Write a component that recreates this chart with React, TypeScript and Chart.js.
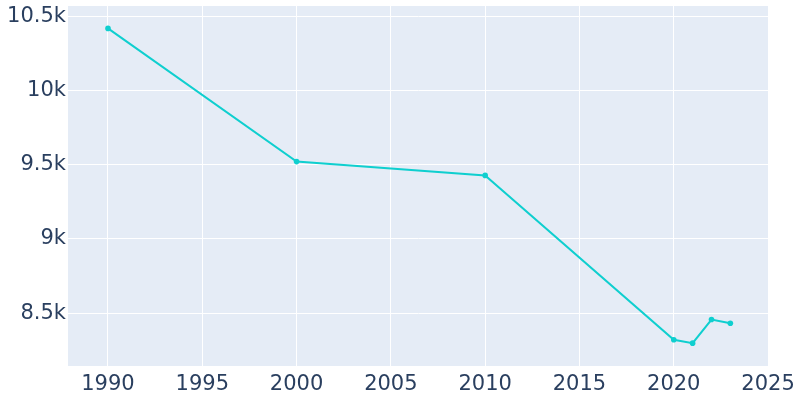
import { useEffect, useRef } from "react"
import { Chart, registerables } from "chart.js"

Chart.register(...registerables)

const years = [1990, 2000, 2010, 2020, 2021, 2022, 2023]
const population = [10418, 9521, 9428, 8321, 8298, 8457, 8432]
const yTicks = [8500, 9000, 9500, 10000, 10500]
const xTicks = [1990, 1995, 2000, 2005, 2010, 2015, 2020, 2025]

const plotBackground = {
  id: "plotBackground",
  beforeDraw(chart: Chart) {
    const { ctx, chartArea } = chart
    ctx.save()
    ctx.fillStyle = "#E5ECF6"
    ctx.fillRect(chartArea.left, chartArea.top, chartArea.right - chartArea.left, chartArea.bottom - chartArea.top)
    ctx.restore()
  }
}

function formatK(v: number) {
  return v / 1000 + "k"
}

const tickFont = { family: "'DejaVu Sans', sans-serif", size: 21 }

export default function App() {
  const chartRef = useRef<HTMLCanvasElement>(null)

  useEffect(() => {
    document.body.style.margin = "0"
    if (!chartRef.current) return

    const chart = new Chart(chartRef.current, {
      type: "line",
      data: {
        datasets: [{
          data: years.map((y, i) => ({ x: y, y: population[i] })),
          borderColor: "#0fcfcf",
          backgroundColor: "#0fcfcf",
          borderWidth: 2,
          pointRadius: 2.8,
          pointBorderWidth: 0,
          pointHoverRadius: 3,
          tension: 0
        }]
      },
      options: {
        animation: false,
        responsive: false,
        layout: { padding: { top: 6, right: 31, left: 0, bottom: 0 } },
        plugins: {
          legend: { display: false },
          tooltip: { enabled: false }
        },
        scales: {
          x: {
            type: "linear",
            min: 1987.88,
            max: 2025.05,
            afterBuildTicks: (scale: any) => {
              scale.ticks = xTicks.map(v => ({ value: v }))
            },
            afterFit: (scale: any) => {
              scale.height = 34
              scale.paddingLeft = 0
              scale.paddingRight = 0
            },
            grid: { color: "#ffffff", lineWidth: 1, drawTicks: false },
            border: { display: false },
            ticks: {
              padding: 6,
              color: "#2a3f5f",
              font: tickFont,
              callback: (v: any) => String(v),
              maxRotation: 0
            }
          },
          y: {
            min: 8144,
            max: 10569,
            afterBuildTicks: (scale: any) => {
              scale.ticks = yTicks.map(v => ({ value: v }))
            },
            afterFit: (scale: any) => {
              scale.width = 68
              scale.paddingTop = 0
              scale.paddingBottom = 0
            },
            grid: { color: "#ffffff", lineWidth: 1, drawTicks: false },
            border: { display: false },
            ticks: {
              padding: 2,
              color: "#2a3f5f",
              font: tickFont,
              callback: (v: any) => formatK(Number(v))
            }
          }
        }
      },
      plugins: [plotBackground]
    })
    return () => chart.destroy()
  }, [])

  return <canvas ref={chartRef} width={800} height={400} />
}
